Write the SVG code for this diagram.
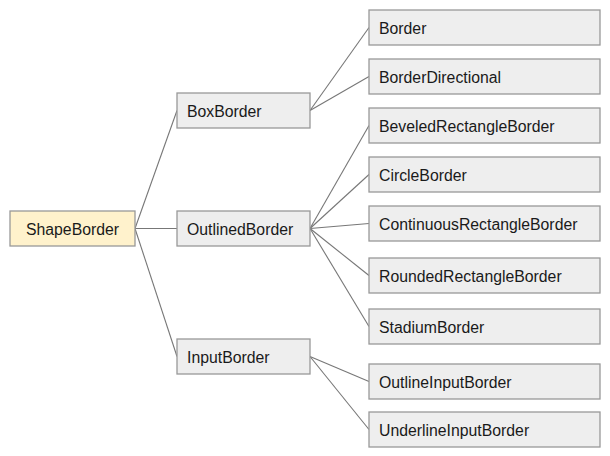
<svg xmlns="http://www.w3.org/2000/svg" width="610" height="456" viewBox="0 0 610 456">
<style>
rect.n{fill:#eeeeee;stroke:#999999;stroke-width:1.3}
rect.root{fill:#fff2cc;stroke:#999999;stroke-width:1.3}
text{font-family:"Liberation Sans",Arial,sans-serif;font-size:15.8px;fill:#1a1a1a;dominant-baseline:central}
#edges line{stroke:#777777;stroke-width:1.1}
</style>
<rect width="610" height="456" fill="#ffffff"/>
<g id="edges">
<line x1="135" y1="228.5" x2="177" y2="110.5"/>
<line x1="135" y1="228.5" x2="177" y2="228.5"/>
<line x1="135" y1="228.5" x2="177" y2="356.5"/>
<line x1="310" y1="110.5" x2="369" y2="27.5"/>
<line x1="310" y1="110.5" x2="369" y2="76.5"/>
<line x1="310" y1="228.5" x2="369" y2="125.5"/>
<line x1="310" y1="228.5" x2="369" y2="174.5"/>
<line x1="310" y1="228.5" x2="369" y2="223.5"/>
<line x1="310" y1="228.5" x2="369" y2="275.5"/>
<line x1="310" y1="228.5" x2="369" y2="326.5"/>
<line x1="310" y1="356.5" x2="369" y2="381.5"/>
<line x1="310" y1="356.5" x2="369" y2="429.5"/>
</g>
<g id="ShapeBorder"><rect class="root" x="10" y="211" width="125" height="35"/><text x="72.5" y="229" text-anchor="middle">ShapeBorder</text></g>
<g id="BoxBorder"><rect class="n" x="177" y="93" width="133" height="35"/><text x="187" y="111">BoxBorder</text></g>
<g id="OutlinedBorder"><rect class="n" x="177" y="211" width="133" height="35"/><text x="187" y="229">OutlinedBorder</text></g>
<g id="InputBorder"><rect class="n" x="177" y="339" width="133" height="35"/><text x="187" y="357">InputBorder</text></g>
<g id="Border"><rect class="n" x="369" y="10" width="231" height="35"/><text x="379" y="28">Border</text></g>
<g id="BorderDirectional"><rect class="n" x="369" y="59" width="231" height="35"/><text x="379" y="77">BorderDirectional</text></g>
<g id="BeveledRectangleBorder"><rect class="n" x="369" y="108" width="231" height="35"/><text x="379" y="126">BeveledRectangleBorder</text></g>
<g id="CircleBorder"><rect class="n" x="369" y="157" width="231" height="35"/><text x="379" y="175">CircleBorder</text></g>
<g id="ContinuousRectangleBorder"><rect class="n" x="369" y="206" width="231" height="35"/><text x="379" y="224">ContinuousRectangleBorder</text></g>
<g id="RoundedRectangleBorder"><rect class="n" x="369" y="258" width="231" height="35"/><text x="379" y="276">RoundedRectangleBorder</text></g>
<g id="StadiumBorder"><rect class="n" x="369" y="309" width="231" height="35"/><text x="379" y="327">StadiumBorder</text></g>
<g id="OutlineInputBorder"><rect class="n" x="369" y="364" width="231" height="35"/><text x="379" y="382">OutlineInputBorder</text></g>
<g id="UnderlineInputBorder"><rect class="n" x="369" y="412" width="231" height="35"/><text x="379" y="430">UnderlineInputBorder</text></g>
</svg>
